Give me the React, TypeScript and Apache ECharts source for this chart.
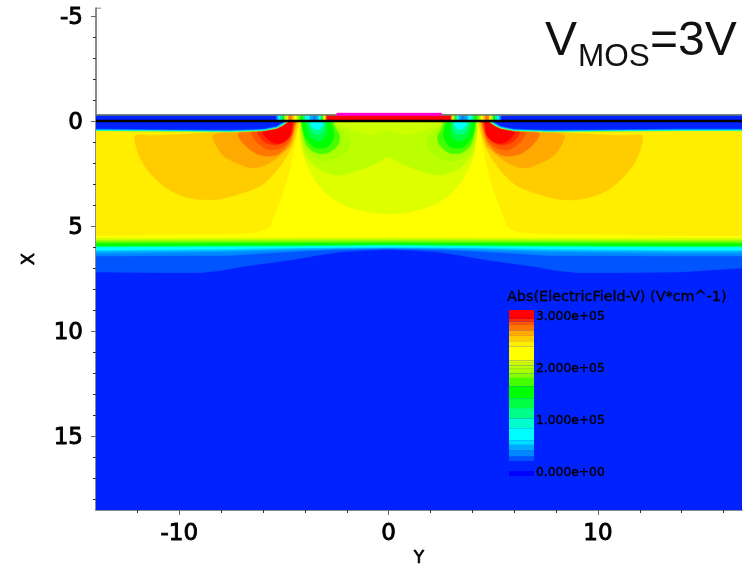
import React, { useEffect, useRef } from "react";
import * as echarts from "echarts";

type P = [number, number];

// Axis ranges and ticks
const yRange: P = [-13.98, 16.88];
const xRange: P = [-5.38, 18.52];
const xMajor = [-5, 0, 5, 10, 15];
const xMinor = [-4, -3, -2, -1, 1, 2, 3, 4, 6, 7, 8, 9, 11, 12, 13, 14, 16, 17, 18];
const yMajor = [-10, 0, 10];
const yMinor = [-12, -8, -6, -4, -2, 2, 4, 6, 8, 12, 14, 16];
const surfaceX = -0.29;

// Colour bar, in units of 1e5 V/cm
const barLower = [-0.08, 0.02, 0.21, 0.3, 0.41, 0.52, 0.61, 0.84, 1.03, 1.23, 1.42, 1.65, 1.81, 1.9, 2.0, 2.05, 2.1, 2.15, 2.42, 2.52, 2.62, 2.73, 2.83, 2.9, 2.95];
const barTop = 3.12;
const barColors = ["#0000ff", "#0022ff", "#0055ff", "#0088ff", "#00aaff", "#00ddff", "#00ffff", "#00ffcc", "#00ff88", "#00ff44", "#00ff00", "#44ff00", "#88ff00", "#aaff00", "#bbff00", "#ccff00", "#ddff00", "#ffff00", "#ffee00", "#ffcc00", "#ffaa00", "#ff7700", "#ff5500", "#ff2a00", "#ff0000"];
const barTicks = [0, 1, 2, 3];

// Lower boundaries of the deep bands: [Y, X] from the left edge to the centre, and the value at the right edge
const band0055: P[] = [[-13.98, 7.19], [-11, 7.22], [-9, 7.22], [-8, 7.12], [-7.1, 6.95], [-6, 6.8], [-4.7, 6.62], [-4, 6.5], [-3.3, 6.38], [-2.3, 6.24], [-1.2, 6.17], [0, 6.12]];
const band0088: P[] = [[-13.98, 6.43], [-7.6, 6.4], [-6, 6.3], [-4.2, 6.2], [-2.4, 6.12], [0, 6.08]];
const band00aa: P[] = [[-13.98, 6.3], [-7.6, 6.22], [-4, 6.12], [0, 6.05]];
const band00dd: P[] = [[-13.98, 6.19], [-7.6, 6.14], [-4, 6.06], [0, 6.02]];
const band00ff: P[] = [[-13.98, 6.14], [-7.6, 6.08], [-4, 6.02], [0, 6.0]];
const band0f88: P[] = [[-13.98, 6.0], [-7.6, 5.98], [0, 5.93]];
const band0f00: P[] = [[-13.98, 5.95], [-7.6, 5.93], [0, 5.88]];
const band44ff: P[] = [[-13.98, 5.82], [0, 5.8]];
const band88ff: P[] = [[-13.98, 5.76], [0, 5.74]];
const bandccff: P[] = [[-13.98, 5.67], [0, 5.65]];
const bandffff: P[] = [[-13.98, 5.57], [0, 5.55]];
const deepBands: [number, P[], number][] = [
  [0.25, band0055, 7.0], [0.35, band0088, 6.43], [0.45, band00aa, 6.3], [0.55, band00dd, 6.19], [0.7, band00ff, 6.14],
  [1.1, band0f88, 6.0], [1.5, band0f00, 5.95], [1.7, band44ff, 5.82], [1.85, band88ff, 5.76], [2.07, bandccff, 5.67], [2.3, bandffff, 5.57],
];

// Field lobes of the left half; the right half is their mirror image
const yellowSide: P[] = [[-13.98, 0], [-13.98, 5.45], [-7.6, 5.38], [-6.4, 5.32], [-5.85, 5.17], [-5.62, 4.95], [-5.5, 4.6], [-5.28, 4.0], [-5.0, 3.3], [-4.7, 2.2], [-4.5, 1.2], [-4.4, 0.57], [-4.33, 0]];
const lobe257: P[] = [[-12.14, 0.81], [-12.02, 0.66], [-11.08, 0.69], [-8.7, 0.57], [-7.6, 0.48], [-4.35, 0], [-4.37, 0.43], [-4.63, 1.24], [-5.21, 2.19], [-6.07, 3.05], [-7.26, 3.52], [-8.41, 3.76], [-9.5, 3.67], [-10.46, 3.29], [-11.32, 2.57], [-11.9, 1.71]];
const lobe267: P[] = [[-8.41, 0.76], [-8.2, 0.6], [-4.4, 0], [-4.42, 0.15], [-4.59, 0.9], [-4.73, 1.24], [-5.69, 2.0], [-6.5, 2.24], [-7.26, 2.0], [-7.93, 1.62]];
const lobe278: P[] = [[-7.21, 0.67], [-7.0, 0.5], [-4.44, 0], [-4.46, 0.2], [-4.73, 1.05], [-5.35, 1.62], [-6.16, 1.62], [-6.78, 1.24]];
const lobe287: P[] = [[-6.55, 0.57], [-6.4, 0.4], [-4.49, 0], [-4.5, 0.14], [-4.68, 0.81], [-5.06, 1.24], [-5.69, 1.38], [-6.26, 1.05]];
const lobe292: P[] = [[-6.26, 0.57], [-6.1, 0.4], [-4.54, 0], [-4.55, 0.14], [-4.83, 0.86], [-5.35, 1.14], [-5.92, 1.0]];
const lobe300: P[] = [[-6.02, 0.57], [-5.9, 0.4], [-4.59, 0], [-4.6, 0.1], [-4.68, 0.67], [-5.11, 1.05], [-5.59, 1.0]];
const hotLobes: [number, P[]][] = [[2.45, yellowSide], [2.57, lobe257], [2.67, lobe267], [2.78, lobe278], [2.87, lobe287], [2.92, lobe292], [3.0, lobe300]];

// Low-field region under the gate; these cross the centre line
const centre210: P[] = [[-4.2, 0.05], [-4.11, 0.33], [-4.11, 1.43], [-3.77, 2.38], [-3.15, 3.29], [-2.34, 3.9], [-1.24, 4.29], [0, 4.43]];
const centre200: P[] = [[-4.06, 0], [-4.11, 1.29], [-3.77, 1.9], [-3.15, 2.38], [-2.34, 2.57], [-1.39, 2.33], [-0.57, 2.0], [0, 1.71]];
const centre205: P[] = [[-2.5, 0], [-1.8, 0.4], [-0.8, 0.67], [0, 0.45]];
const centreBands: [number, P[]][] = [[2.12, centre210], [2.02, centre200], [2.07, centre205]];

const well195: P[] = [[-4.2, 0], [-4.2, 0.33], [-4.09, 0.97], [-3.77, 1.6], [-3.14, 1.89], [-2.66, 1.84], [-2.1, 1.52], [-1.81, 1.05], [-2.02, 0.57], [-2.5, 0.25], [-2.61, 0]];
const well170: P[] = [[-4.13, 0], [-4.13, 0.33], [-3.93, 1.13], [-3.46, 1.52], [-2.9, 1.52], [-2.42, 1.13], [-2.34, 0.73], [-2.58, 0.25], [-2.69, 0]];
const well150: P[] = [[-4.13, 0], [-4.13, 0.1], [-4.01, 0.73], [-3.54, 1.25], [-2.97, 1.25], [-2.63, 0.81], [-2.69, 0.25], [-2.9, 0]];
const well130: P[] = [[-3.97, 0], [-3.97, 0.1], [-3.77, 0.73], [-3.37, 0.97], [-3.01, 0.73], [-2.95, 0.25], [-3.06, 0]];
const well110: P[] = [[-3.85, 0], [-3.85, 0.1], [-3.69, 0.49], [-3.37, 0.65], [-3.14, 0.49], [-3.06, 0.1], [-3.06, 0]];
const well080: P[] = [[-3.74, 0], [-3.74, 0.05], [-3.65, 0.3], [-3.37, 0.41], [-3.17, 0.25], [-3.1, 0.05], [-3.1, 0]];
const wells: [number, P[]][] = [[1.95, well195], [1.7, well170], [1.5, well150], [1.3, well130], [1.1, well110], [0.8, well080]];

// Oxide pocket over the lobes, edge contours from outside to inside
const pocket190: P[] = [[-13.98, 0.48], [-10, 0.51], [-7.6, 0.53], [-6, 0.48], [-5.35, 0.36], [-5.06, 0.22], [-4.87, 0.08], [-4.75, 0]];
const pocket070: P[] = [[-13.98, 0.45], [-10, 0.48], [-7.6, 0.5], [-6, 0.45], [-5.35, 0.32], [-5.06, 0.18], [-4.9, 0.05], [-4.8, 0]];
const pocket035: P[] = [[-13.98, 0.41], [-10, 0.44], [-7.6, 0.46], [-6, 0.41], [-5.35, 0.28], [-5.1, 0.14], [-4.94, 0.04], [-4.85, 0]];
const pocket010: P[] = [[-13.98, 0.37], [-10, 0.4], [-7.6, 0.42], [-6, 0.37], [-5.35, 0.24], [-5.14, 0.1], [-5.0, 0.03], [-4.92, 0]];
const pockets: [number, P[]][] = [[1.9, pocket190], [0.7, pocket070], [0.35, pocket035], [0.1, pocket010]];

// Strip between the surface and the black line: column edges in Y, and the value in each column
const stripEdges = [-5.35, -5.26, -5.16, -5.06, -4.97, -4.87, -4.78, -4.59, -4.49, -4.4, -4.3, -4.2, -4.06, -3.97, -3.77, -3.63, -3.44, -3.34, -3.25, -3.18, -3.13, -3.06, -3.01, -2.96];
const stripValues = [0.45, 0.7, 1.1, 1.5, 2.07, 2.45, 2.78, 2.57, 2.3, 2.02, 1.7, 1.5, 1.1, 0.7, 0.45, 0.35, 0.45, 0.7, 1.1, 1.5, 2.07, 2.45, 2.78];
const stripCentreValue = 3.0;
const gateEdges: P[] = [[-2.48, -0.38], [2.53, -0.25]];

const colorOf = (v: number) => {
  let c = barColors[0];
  barLower.forEach((l, i) => { if (v >= l) c = barColors[i]; });
  return c;
};
const mirror = (p: P[]): P[] => p.map(([y, x]) => [-y, x] as P);

type Shape = { fill: string; pts: P[]; round?: boolean };
const shapes: Shape[] = [];
const addShape = (v: number, pts: P[], round = false) => shapes.push({ fill: colorOf(v), pts, round });

const baseBlue = 0.1;
addShape(baseBlue, [[yRange[0], surfaceX], [yRange[1], surfaceX], [yRange[1], xRange[1]], [yRange[0], xRange[1]]]);
deepBands.forEach(([v, half, rightX]) => {
  const whole: P[] = [...half, ...mirror(half).reverse().slice(1), [yRange[1], rightX]];
  addShape(v, [[yRange[0], surfaceX], ...whole, [yRange[1], surfaceX]]);
});
hotLobes.forEach(([v, half], i) => {
  if (i === 0) {
    addShape(v, half);
    // the side block runs on to the right edge of the plot
    const right = mirror(half);
    addShape(v, [[yRange[1], 0], [yRange[1], half[1][1]], ...right.slice(1)]);
  } else {
    addShape(v, half, true);
    addShape(v, mirror(half), true);
  }
});
centreBands.forEach(([v, half]) => addShape(v, [...half, ...mirror(half).reverse().slice(1)], true));
wells.forEach(([v, half]) => { addShape(v, half, true); addShape(v, mirror(half), true); });
pockets.forEach(([v, half]) => {
  const end = half[half.length - 1];
  addShape(v, [[yRange[0], surfaceX], ...half, [end[0], surfaceX]]);
  addShape(v, [[-end[0], surfaceX], ...mirror(half).reverse().slice(0, -1), [-half[0][0], half[0][1]], [yRange[1], half[0][1]], [yRange[1], surfaceX]]);
});
stripValues.forEach((v, i) => {
  const a = stripEdges[i], b = stripEdges[i + 1];
  addShape(v, [[a, surfaceX], [b, surfaceX], [b, 0], [a, 0]]);
  addShape(v, [[-a, surfaceX], [-b, surfaceX], [-b, 0], [-a, 0]]);
});
const stripEnd = stripEdges[stripEdges.length - 1];
addShape(stripCentreValue, [[stripEnd, surfaceX], [-stripEnd, surfaceX], [-stripEnd, 0], [stripEnd, 0]]);
shapes.push({ fill: "#ff00d0", pts: [[gateEdges[0][0], gateEdges[0][1]], [gateEdges[1][0], gateEdges[0][1]], [gateEdges[1][0], gateEdges[1][1]], [gateEdges[0][0], gateEdges[1][1]]] });

const GREY = "#666666";
const LABEL = "DejaVu Sans";

export default function App() {
  const ref = useRef<HTMLDivElement>(null);
  useEffect(() => {
    const chart = echarts.init(ref.current!, undefined, { renderer: "svg" });
    const hiddenValue = { show: false };
    const axisFont = { fontFamily: LABEL, fontSize: 23, color: "#000", textBorderColor: "#000", textBorderWidth: 0.9 };
    chart.setOption({
      animation: false,
      backgroundColor: "#ffffff",
      grid: [
        { left: 96, right: 2, top: 8, bottom: 56, outerBoundsMode: "none" },
        { left: 509, width: 25, top: 310, height: 166, outerBoundsMode: "none" },
      ],
      xAxis: [
        {
          gridIndex: 0, type: "value", min: yRange[0], max: yRange[1], position: "bottom",
          name: "Y", nameLocation: "middle", nameGap: 36,
          nameTextStyle: { fontFamily: LABEL, fontSize: 17, color: "#000", textBorderColor: "#000", textBorderWidth: 0.7 },
          axisLine: { show: true, onZero: false, lineStyle: { color: GREY, width: 1.5 } },
          axisTick: { show: true, length: 5, customValues: yMajor, lineStyle: { color: GREY } },
          axisLabel: { show: true, customValues: yMajor, margin: 10, ...axisFont, hideOverlap: false },
          splitLine: hiddenValue,
        },
        {
          gridIndex: 0, type: "value", min: yRange[0], max: yRange[1], position: "bottom",
          axisLine: { show: false, onZero: false },
          axisTick: { show: true, length: 3, customValues: yMinor, lineStyle: { color: "#333" } },
          axisLabel: hiddenValue, splitLine: hiddenValue,
        },
        { gridIndex: 1, type: "value", min: 0, max: 1, show: false },
      ],
      yAxis: [
        {
          gridIndex: 0, type: "value", inverse: true, min: xRange[0], max: xRange[1], position: "left",
          name: "X", nameLocation: "middle", nameGap: 60,
          nameTextStyle: { fontFamily: LABEL, fontSize: 18, color: "#000", textBorderColor: "#000", textBorderWidth: 0.7 },
          axisLine: { show: true, onZero: false, lineStyle: { color: GREY, width: 1.5 } },
          axisTick: { show: true, length: 5, customValues: xMajor, lineStyle: { color: GREY } },
          axisLabel: { show: true, customValues: xMajor, margin: 13, ...axisFont },
          splitLine: hiddenValue,
        },
        {
          gridIndex: 0, type: "value", inverse: true, min: xRange[0], max: xRange[1], position: "left",
          axisLine: { show: false, onZero: false },
          axisTick: { show: true, length: 3, customValues: xMinor, lineStyle: { color: "#333" } },
          axisLabel: hiddenValue, splitLine: hiddenValue,
        },
        {
          gridIndex: 1, type: "value", min: barLower[0], max: barTop, position: "right", z: 20,
          axisLine: { show: false, onZero: false },
          axisTick: { show: false },
          splitLine: hiddenValue,
          axisLabel: {
            show: true, customValues: barTicks, margin: 2, inside: false,
            fontFamily: LABEL, fontSize: 12.3, color: "#000", textBorderColor: "#000", textBorderWidth: 0.4,
            formatter: (v: number) => (v * 1e5).toExponential(3).replace(/e\+(\d)$/, "e+0$1"),
          },
        },
      ],
      series: [
        {
          type: "custom", xAxisIndex: 0, yAxisIndex: 0, silent: true, clip: true,
          data: shapes.map((s, i) => [s.pts[0][0], s.pts[0][1], i]),
          encode: { x: 0, y: 1 },
          renderItem: (_p: any, api: any) => {
            const s = shapes[api.value(2)];
            return {
              type: "polygon",
              shape: { points: s.pts.map((p) => api.coord(p)), smooth: s.round ? 0.3 : 0 },
              style: { fill: s.fill, stroke: s.fill, lineWidth: 0.4 },
            };
          },
        },
        {
          type: "line", xAxisIndex: 0, yAxisIndex: 0, silent: true, symbol: "none",
          data: [[yRange[0], 0], [yRange[1], 0]],
          lineStyle: { color: "#000", width: 2.4 },
        },
        {
          type: "line", xAxisIndex: 0, yAxisIndex: 0, silent: true, symbol: "none",
          data: [[yRange[0], surfaceX], [gateEdges[0][0], surfaceX], [null, null], [gateEdges[1][0], surfaceX], [yRange[1], surfaceX]],
          connectNulls: false,
          lineStyle: { color: "#777", width: 1.5 },
        },
        {
          type: "line", xAxisIndex: 0, yAxisIndex: 0, silent: true, symbol: "none",
          data: [[yRange[0], xRange[0]], [yRange[0] + 0.25, xRange[0]]],
          lineStyle: { color: GREY, width: 1 },
        },
        {
          type: "custom", xAxisIndex: 2, yAxisIndex: 2, silent: true,
          data: barLower.map((l, i) => [0, l, i]),
          encode: { x: 0, y: 1 },
          renderItem: (_p: any, api: any) => {
            const i = api.value(2);
            const top = i + 1 < barLower.length ? barLower[i + 1] : barTop;
            const a = api.coord([0, barLower[i]]);
            const b = api.coord([1, top]);
            return {
              type: "rect",
              shape: { x: a[0], y: b[1], width: b[0] - a[0], height: a[1] - b[1] },
              style: { fill: barColors[i] },
            };
          },
        },
      ],
      graphic: [
        { type: "text", z: 100, x: 507, y: 289, style: { text: "Abs(ElectricField-V) (V*cm^-1)", font: `14.4px "${LABEL}"`, fill: "#000", stroke: "#000", lineWidth: 0.3 } },
        { type: "text", z: 100, x: 545, y: 14, style: { text: "V", font: '48px "Liberation Sans"', fill: "#111" } },
        { type: "text", z: 100, x: 578, y: 39, style: { text: "MOS", font: '31.5px "Liberation Sans"', fill: "#111" } },
        { type: "text", z: 100, x: 650, y: 14, style: { text: "=3V", font: '48px "Liberation Sans"', fill: "#111" } },
      ],
    });
    return () => chart.dispose();
  }, []);
  return <div ref={ref} style={{ position: "absolute", left: 0, top: 0, width: 744, height: 566, filter: "blur(0.4px)" }} />;
}
